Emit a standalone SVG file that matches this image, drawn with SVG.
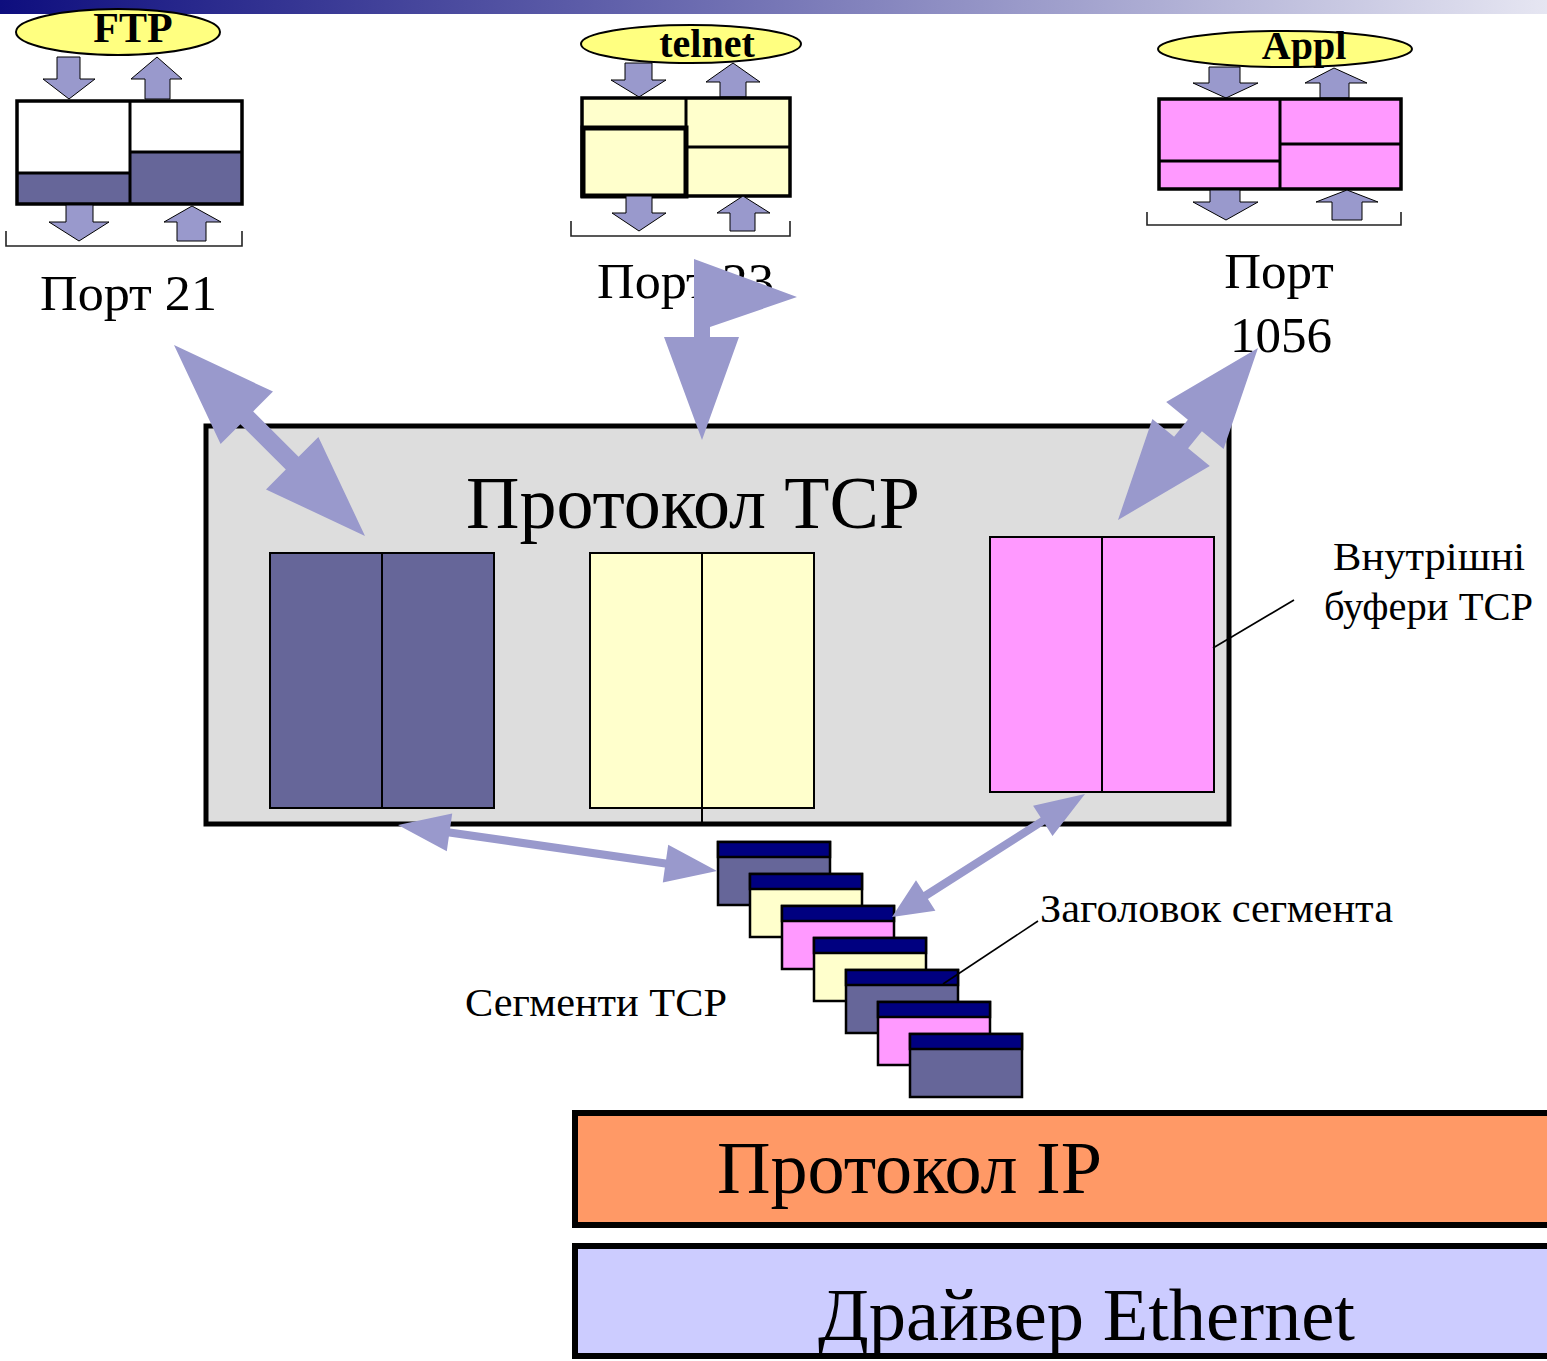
<svg xmlns="http://www.w3.org/2000/svg" width="1547" height="1361" viewBox="0 0 1547 1361">
  <defs>
    <linearGradient id="topBar" x1="0" y1="0" x2="1" y2="0">
      <stop offset="0" stop-color="#0e0e7e"/>
      <stop offset="0.5" stop-color="#7676b6"/>
      <stop offset="1" stop-color="#e6e6f2"/>
    </linearGradient>
  </defs>
  <style>
    .app { fill: #ffff80; stroke: #000; stroke-width: 2; }
    .appTxt { font-family: "Liberation Serif", serif; font-weight: bold; fill: #000; text-anchor: middle; }
    .lbl { font-family: "Liberation Serif", serif; fill: #000; }
    .flow { fill: #9999cc; stroke: #000; stroke-width: 1; stroke-linejoin: miter; }
    .big { fill: #9999cc; stroke: none; }
    .frame { stroke: #000; stroke-width: 3.5; }
    .buf { stroke: #000; stroke-width: 2; }
    .dark { fill: #666699; }
    .white { fill: #ffffff; }
    .yel { fill: #ffffcc; }
    .pink { fill: #ff99ff; }
    .hdr { fill: #000080; }
    .seg rect { stroke: #000; stroke-width: 2.5; }
    .brk { fill: none; stroke: #222; stroke-width: 1.6; }
    .callout { stroke: #000; stroke-width: 1.6; fill: none; }
  </style>

  <!-- title band -->
  <rect x="0" y="0" width="1547" height="14" fill="url(#topBar)"/>

  <!-- FTP application, port 21 -->
  <g id="ftp">
    <ellipse class="app" cx="118" cy="32" rx="102" ry="23"/>
    <text class="appTxt" x="133" y="42" font-size="42">FTP</text>
    <polygon class="flow" points="57,57 80,57 80,79 95,79 69,99 43,79 57,79"/>
    <polygon class="flow" points="145,99 170,99 170,79 182,79 157,57 131,79 145,79"/>
    <rect class="white" x="17" y="101" width="113" height="103"/>
    <rect class="dark" x="17" y="173" width="113" height="31"/>
    <rect class="white" x="130" y="101" width="112" height="103"/>
    <rect class="dark" x="130" y="152" width="112" height="52"/>
    <line x1="17" y1="173" x2="130" y2="173" stroke="#000" stroke-width="3"/>
    <line x1="130" y1="152" x2="242" y2="152" stroke="#000" stroke-width="3"/>
    <line x1="130" y1="101" x2="130" y2="204" stroke="#000" stroke-width="3"/>
    <rect class="frame" x="17" y="101" width="225" height="103" fill="none"/>
    <polygon class="flow" points="66,205 93,205 93,222 109,222 79,241 49,222 66,222"/>
    <polygon class="flow" points="177,241 206,241 206,222 221,222 192,206 164,222 177,222"/>
    <polyline class="brk" points="6,231 6,246 242,246 242,231"/>
    <text class="lbl" x="40" y="310" font-size="51" textLength="177" lengthAdjust="spacingAndGlyphs">Порт 21</text>
  </g>

  <!-- telnet application, port 23 -->
  <g id="telnet">
    <ellipse class="app" cx="691" cy="44" rx="110" ry="19"/>
    <text class="appTxt" x="707" y="57" font-size="40">telnet</text>
    <polygon class="flow" points="625,63 652,63 652,80 666,80 639,97 611,80 625,80"/>
    <polygon class="flow" points="720,97 746,97 746,82 760,82 733,63 706,82 720,82"/>
    <rect class="yel frame" x="582" y="98" width="208" height="98"/>
    <line x1="686" y1="98" x2="686" y2="196" stroke="#000" stroke-width="3"/>
    <line x1="686" y1="147" x2="790" y2="147" stroke="#000" stroke-width="3"/>
    <rect class="yel" x="583" y="128" width="103" height="68" stroke="#000" stroke-width="5"/>
    <polygon class="flow" points="626,196 652,196 652,213 666,213 639,231 612,213 626,213"/>
    <polygon class="flow" points="730,231 755,231 755,213 770,213 743,196 717,213 730,213"/>
    <polyline class="brk" points="571,221 571,236 790,236 790,221"/>
    <text class="lbl" x="597" y="298" font-size="51" textLength="177" lengthAdjust="spacingAndGlyphs">Порт 23</text>
  </g>

  <!-- user application, port 1056 -->
  <g id="appl">
    <ellipse class="app" cx="1285" cy="49" rx="127" ry="18"/>
    <text class="appTxt" x="1304" y="59" font-size="40">Appl</text>
    <polygon class="flow" points="1209,67 1240,67 1240,83 1258,83 1226,98 1193,83 1209,83"/>
    <polygon class="flow" points="1320,98 1349,98 1349,83 1367,83 1334,68 1305,83 1320,83"/>
    <rect class="pink frame" x="1159" y="99" width="242" height="90"/>
    <line x1="1280" y1="99" x2="1280" y2="189" stroke="#000" stroke-width="3"/>
    <line x1="1159" y1="161" x2="1280" y2="161" stroke="#000" stroke-width="3"/>
    <line x1="1280" y1="144" x2="1401" y2="144" stroke="#000" stroke-width="3"/>
    <polygon class="flow" points="1210,190 1240,190 1240,202 1258,202 1226,220 1193,202 1210,202"/>
    <polygon class="flow" points="1332,220 1362,220 1362,202 1378,202 1347,190 1316,202 1332,202"/>
    <polyline class="brk" points="1147,212 1147,225 1401,225 1401,212"/>
    <text class="lbl" x="1279" y="288" font-size="51" text-anchor="middle">Порт</text>
    <text class="lbl" x="1281" y="352" font-size="51" text-anchor="middle">1056</text>
  </g>

  <!-- TCP module with its internal buffers -->
  <g id="tcp">
    <rect x="206" y="426" width="1023" height="398" fill="#dddddd" stroke="#000" stroke-width="5"/>
    <text class="lbl" x="466" y="528" font-size="74" textLength="454" lengthAdjust="spacingAndGlyphs">Протокол TCP</text>
    <rect class="dark buf" x="270" y="553" width="224" height="255"/>
    <line class="buf" x1="382" y1="553" x2="382" y2="808"/>
    <rect class="yel buf" x="590" y="553" width="224" height="255"/>
    <line class="buf" x1="702" y1="553" x2="702" y2="823"/>
    <rect class="pink buf" x="990" y="537" width="224" height="255"/>
    <line class="buf" x1="1102" y1="537" x2="1102" y2="792"/>
  </g>

  <g id="buffers-label">
    <line class="callout" x1="1213" y1="648" x2="1294" y2="600"/>
    <text class="lbl" x="1333" y="570" font-size="39" textLength="192" lengthAdjust="spacingAndGlyphs">Внутрішні</text>
    <text class="lbl" x="1324" y="620" font-size="39" textLength="209" lengthAdjust="spacingAndGlyphs">буфери TCP</text>
  </g>

  <!-- stack of TCP segments -->
  <g id="segments" class="seg">
    <rect class="dark" x="718" y="842" width="112" height="63"/><rect class="hdr" x="718" y="842" width="112" height="15"/>
    <rect class="yel" x="750" y="874" width="112" height="63"/><rect class="hdr" x="750" y="874" width="112" height="15"/>
    <rect class="pink" x="782" y="906" width="112" height="63"/><rect class="hdr" x="782" y="906" width="112" height="15"/>
    <rect class="yel" x="814" y="938" width="112" height="63"/><rect class="hdr" x="814" y="938" width="112" height="15"/>
    <rect class="dark" x="846" y="970" width="112" height="63"/><rect class="hdr" x="846" y="970" width="112" height="15"/>
    <rect class="pink" x="878" y="1002" width="112" height="63"/><rect class="hdr" x="878" y="1002" width="112" height="15"/>
    <rect class="dark" x="910" y="1034" width="112" height="63"/><rect class="hdr" x="910" y="1034" width="112" height="15"/>
  </g>

  <g id="segment-labels">
    <line class="callout" x1="943" y1="984" x2="1038" y2="921"/>
    <text class="lbl" x="1040" y="922" font-size="39" textLength="353" lengthAdjust="spacingAndGlyphs">Заголовок сегмента</text>
    <text class="lbl" x="465" y="1016" font-size="39" textLength="262" lengthAdjust="spacingAndGlyphs">Сегменти TCP</text>
  </g>

  <!-- lower layers -->
  <g id="ip">
    <rect x="575" y="1113" width="990" height="112" fill="#ff9966" stroke="#000" stroke-width="6"/>
    <text class="lbl" x="717" y="1193" font-size="74" textLength="385" lengthAdjust="spacingAndGlyphs">Протокол IP</text>
  </g>
  <g id="ethernet">
    <rect x="575" y="1246" width="990" height="110" fill="#ccccff" stroke="#000" stroke-width="6"/>
    <text class="lbl" x="818" y="1340" font-size="75" textLength="537" lengthAdjust="spacingAndGlyphs">Драйвер Ethernet</text>
  </g>

  <!-- data flow between ports, TCP buffers and segments -->
  <g id="connectors">
    <polygon class="big" points="174,345 273,391.6 253.2,411.4 298.6,456.8 318.4,437 365,536 266,489.4 285.8,469.6 240.4,424.2 220.6,444"/>
    <polygon class="big" points="694,259 797,297 710,327 710,337 739,337 702,440 664,337 694,337"/>
    <polygon class="big" points="1258,348 1223.6,448.9 1201.9,431.2 1188.1,448.2 1209.8,465.9 1118,520 1152.4,419.1 1174.1,436.8 1187.9,419.8 1166.2,402.1"/>
    <polygon class="big" points="398,825 452.2,813.6 450.1,828.4 666.1,859.6 668.2,844.8 717,871 662.8,882.4 664.9,867.6 448.9,836.4 446.8,851.2"/>
    <polygon class="big" points="1085,794 1052.5,836.1 1045,824.3 927.9,898.9 935.4,910.7 892,917 916,880.3 923.6,892.1 1040.7,817.5 1033.1,805.7"/>
  </g>
</svg>
